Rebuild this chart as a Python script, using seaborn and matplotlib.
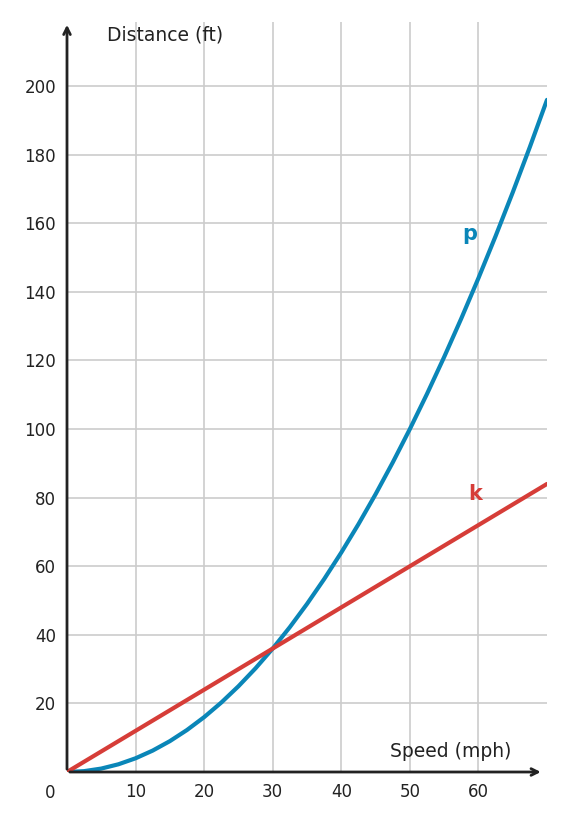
import pandas as pd
import seaborn as sns
import matplotlib.pyplot as plt

# values
speed = [0, 2.5, 5, 7.5, 10, 12.5, 15, 17.5, 20, 22.5, 25, 27.5, 30, 32.5, 35,
         37.5, 40, 42.5, 45, 47.5, 50, 52.5, 55, 57.5, 60, 62.5, 65, 67.5, 70]
dist_p = [0, 0.25, 1, 2.25, 4, 6.25, 9, 12.25, 16, 20.25, 25, 30.25, 36, 42.25, 49,
          56.25, 64, 72.25, 81, 90.25, 100, 110.25, 121, 132.25, 144, 156.25, 169, 182.25, 196]
dist_k = [0, 3, 6, 9, 12, 15, 18, 21, 24, 27, 30, 33, 36, 39, 42,
          45, 48, 51, 54, 57, 60, 63, 66, 69, 72, 75, 78, 81, 84]
x_ticks = [10, 20, 30, 40, 50, 60]
y_ticks = [20, 40, 60, 80, 100, 120, 140, 160, 180, 200]

blue = "#0a86b8"
red = "#d63d38"
ink = "#222222"

df = pd.DataFrame({"speed": speed, "p": dist_p, "k": dist_k})

sns.set_theme(style="white")
fig = plt.figure(figsize=(5.65, 8.21), dpi=100)
ax = fig.add_axes([67 / 565, 49 / 821, 480 / 565, 750 / 821])

sns.lineplot(data=df, x="speed", y="p", color=blue, lw=3, ax=ax)
sns.lineplot(data=df, x="speed", y="k", color=red, lw=3, ax=ax)

ax.set_xlim(0, 70)
ax.set_ylim(0, 218.7)
ax.set_xticks(x_ticks)
ax.set_yticks(y_ticks)
ax.grid(True, color="#cccccc", lw=1.2)
ax.tick_params(length=0, labelsize=12, colors=ink, pad=8)
ax.set_xlabel("")
ax.set_ylabel("")
for s in ax.spines.values():
    s.set_visible(False)

# arrowed axes
ax.annotate("", xy=(69.5, 0), xytext=(0, 0), xycoords="data",
            arrowprops=dict(arrowstyle="->", color=ink, lw=2), annotation_clip=False)
ax.annotate("", xy=(0, 218.7), xytext=(0, 0),
            arrowprops=dict(arrowstyle="->", color=ink, lw=2), annotation_clip=False)

ax.text(-2.5, -6, "0", fontsize=12, color=ink, ha="center", va="center")
ax.text(5.9, 215, "Distance (ft)", fontsize=13.5, color=ink, ha="left", va="center")
ax.text(47.1, 6, "Speed (mph)", fontsize=13.5, color=ink, ha="left", va="center")
ax.text(58.8, 157, "p", fontsize=15, color=blue, fontweight="bold", ha="center", va="center")
ax.text(59.5, 81, "k", fontsize=15, color=red, fontweight="bold", ha="center", va="center")

fig.savefig("out.png", dpi=100)
